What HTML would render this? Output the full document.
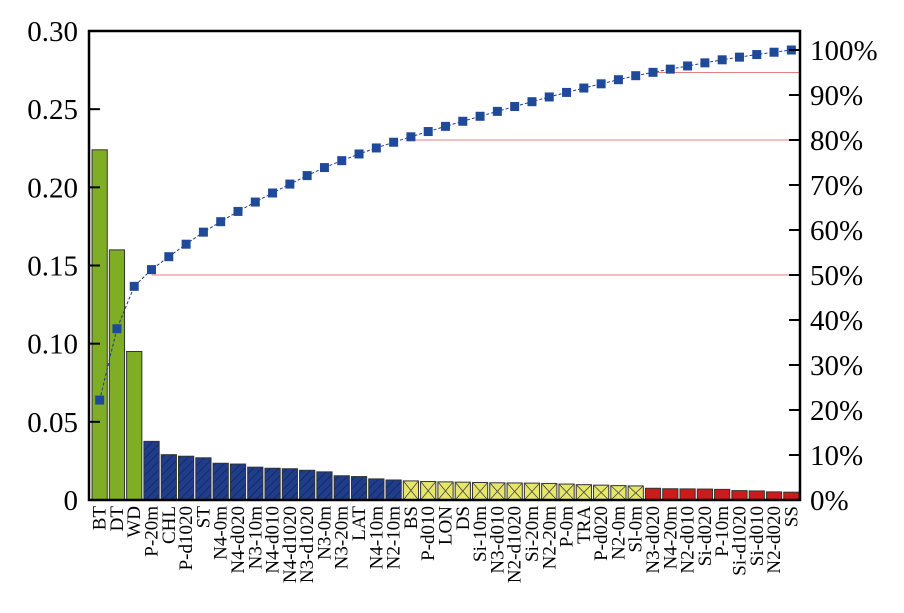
<!DOCTYPE html>
<html><head><meta charset="utf-8"><style>
html,body{margin:0;padding:0;background:#fff}
svg{display:block;font-family:"Liberation Serif",serif}
</style></head><body>
<svg id="c" width="904" height="613" viewBox="0 0 904 613">
<defs>
<pattern id="hatch" width="6" height="6" patternUnits="userSpaceOnUse" patternTransform="rotate(45)">
<rect width="6" height="6" fill="#1f3d8a"/><line x1="0" y1="0" x2="0" y2="6" stroke="#0d1f4d" stroke-width="1.2"/>
</pattern>
</defs>
<g id="bars"></g><g id="lines"></g><g id="axes"></g><g id="labels"></g>
</svg>
<script>
const categories=["BT","DT","WD","P-20m","CHL","P-d1020","ST","N4-0m","N4-d020","N3-10m","N4-d010","N4-d1020","N3-d1020","N3-0m","N3-20m","LAT","N4-10m","N2-10m","BS","P-d010","LON","DS","Si-10m","N3-d010","N2-d1020","Si-20m","N2-20m","P-0m","TRA","P-d020","N2-0m","Sl-0m","N3-d020","N4-20m","N2-d010","Si-d020","P-10m","Si-d1020","Si-d010","N2-d020","SS"];
const values=[0.224,0.160,0.095,0.0375,0.029,0.028,0.027,0.0235,0.023,0.021,0.0203,0.020,0.019,0.018,0.0155,0.015,0.0135,0.0128,0.0122,0.0118,0.0116,0.0114,0.0112,0.011,0.0109,0.0108,0.0106,0.0102,0.0098,0.0095,0.0092,0.009,0.0075,0.0072,0.0071,0.007,0.0068,0.006,0.0058,0.0052,0.005];
const groups=[0,0,0,1,1,1,1,1,1,1,1,1,1,1,1,1,1,1,2,2,2,2,2,2,2,2,2,2,2,2,2,2,3,3,3,3,3,3,3,3,3];
const leftTicks=["0","0.05","0.10","0.15","0.20","0.25","0.30"];
const leftTickVals=[0,0.05,0.10,0.15,0.20,0.25,0.30];
const rightTickVals=[0,10,20,30,40,50,60,70,80,90,100];
const thresholds=[50,80,95];
const NS="http://www.w3.org/2000/svg";
const X0=89,X1=800,Y0=500,YT=31;
const n=categories.length, slot=(X1-X0-2)/n;
const yL=v=>Y0-v/0.30*(Y0-YT);
const yR=p=>Y0-p*4.5;
const xC=i=>X0+2+slot*(i+0.5);
function mk(t,a,p){const e=document.createElementNS(NS,t);for(const k in a)e.setAttribute(k,a[k]);(p||document.getElementById('c')).appendChild(e);return e;}
const fills=["#7fad24","url(#hatch)","#e6e66a","#cc1b1b"];
const bars=document.getElementById('bars'),lines=document.getElementById('lines'),axes=document.getElementById('axes'),labels=document.getElementById('labels');
values.forEach((v,i)=>{
  const x=xC(i)-slot*0.44,w=slot*0.88,y=yL(v);
  const r=mk('rect',{x:x,y:y,width:w,height:Y0-y,fill:fills[groups[i]],stroke:"#333","stroke-width":1},bars);
  
  
  if(groups[i]===2){
    const g=mk('path',{d:`M${x} ${y}L${x+w} ${Y0}M${x+w} ${y}L${x} ${Y0}`,stroke:"#444","stroke-width":0.8,fill:"none"},bars);
  }
  const t=mk('text',{x:0,y:0,"font-size":19,"text-anchor":"end",transform:`translate(${xC(i)+6},506) rotate(-90)`},labels);
  t.textContent=categories[i];
  
  
});
const total=values.reduce((a,b)=>a+b,0);
let s=0;const cum=values.map(v=>(s+=v)/total*100);
thresholds.forEach(th=>{
  let i=cum.findIndex(c=>c>=th);
  const l=mk('line',{x1:xC(i),x2:X1,y1:yR(th),y2:yR(th),stroke:"#e08080","stroke-width":1},lines);
  
  
});
const pl=mk('polyline',{points:cum.map((c,i)=>xC(i)+","+yR(c)).join(" "),fill:"none",stroke:"#1f3d8a","stroke-width":1,"stroke-dasharray":"3,2"},lines);


cum.forEach((c,i)=>{
  const m=mk('rect',{x:xC(i)-4.5,y:yR(c)-4.5,width:9,height:9,fill:"#1f4a9a"},lines);
  
  
});
const fr=mk('rect',{x:X0,y:YT,width:X1-X0,height:Y0-YT,fill:"none",stroke:"#000","stroke-width":2.5},axes);


leftTickVals.forEach((v,i)=>{
  mk('line',{x1:X0,x2:X0+11,y1:yL(v),y2:yL(v),stroke:"#000","stroke-width":2},axes);
  const t=mk('text',{x:78,y:yL(v)+10,"font-size":29,"text-anchor":"end"},axes);
  t.textContent=leftTicks[i];
  
  
});
rightTickVals.forEach(p=>{
  mk('line',{x1:X1-11,x2:X1,y1:yR(p),y2:yR(p),stroke:"#000","stroke-width":2},axes);
  const t=mk('text',{x:810,y:yR(p)+10,"font-size":29},axes);
  t.textContent=p+"%";
  
  
});
</script>
</body></html>
